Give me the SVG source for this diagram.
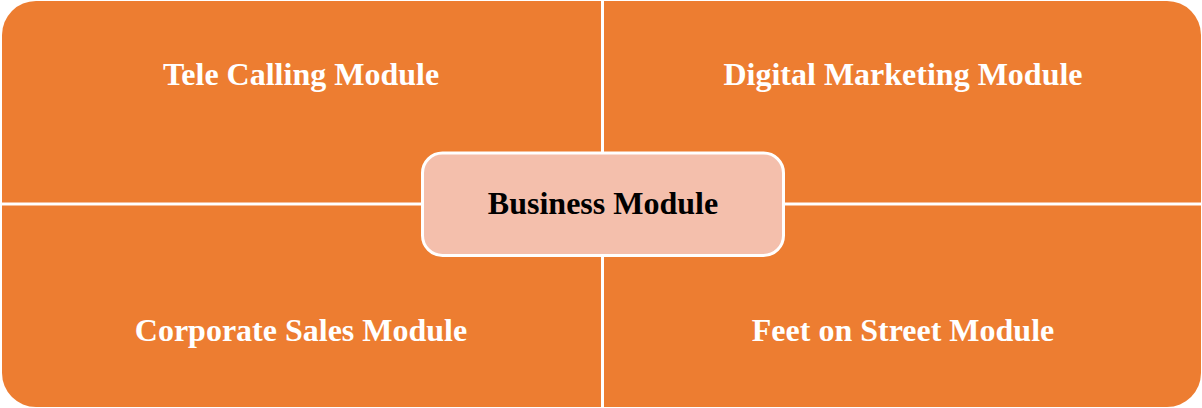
<svg xmlns="http://www.w3.org/2000/svg" width="1202" height="408" viewBox="0 0 1202 408">
<style>
.q{fill:#ED7D31;}
.qt{font-family:"Liberation Serif","Times New Roman",serif;font-weight:bold;font-size:32px;fill:#FFFFFF;text-anchor:middle;}
.ct{font-family:"Liberation Serif","Times New Roman",serif;font-weight:bold;font-size:32px;fill:#000000;text-anchor:middle;}
.c{fill:#F4BFAC;stroke:#FFFFFF;stroke-width:3;}
</style>
<rect width="1202" height="408" fill="#FFFFFF"/>
<g id="tele-calling">
<path class="q" d="M2,35 A34,34 0 0 1 36,1 L601,1 L601,202.5 L2,202.5 Z"/>
<text class="qt" x="301" y="85">Tele Calling Module</text>
</g>
<g id="digital-marketing">
<path class="q" d="M604,1 L1167,1 A34,34 0 0 1 1201,35 L1201,202.5 L604,202.5 Z"/>
<text class="qt" x="903" y="85">Digital Marketing Module</text>
</g>
<g id="corporate-sales">
<path class="q" d="M2,205.5 L601,205.5 L601,407 L36,407 A34,34 0 0 1 2,373 Z"/>
<text class="qt" x="301" y="341">Corporate Sales Module</text>
</g>
<g id="feet-on-street">
<path class="q" d="M604,205.5 L1201,205.5 L1201,373 A34,34 0 0 1 1167,407 L604,407 Z"/>
<text class="qt" x="903" y="341">Feet on Street Module</text>
</g>
<g id="connectors"></g>
<g id="business-module">
<rect class="c" x="422.5" y="153" width="361" height="102.5" rx="20" ry="20"/>
<text class="ct" x="603" y="214">Business Module</text>
</g>
</svg>
